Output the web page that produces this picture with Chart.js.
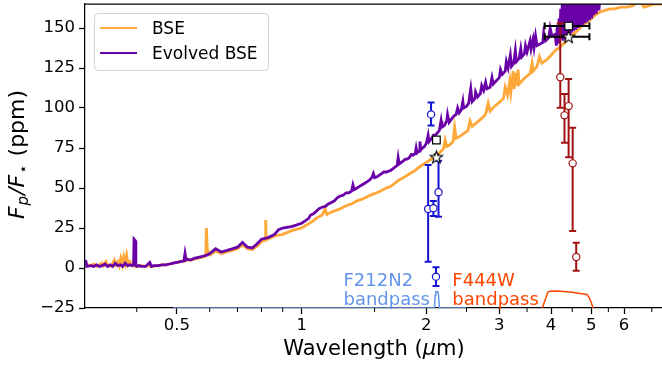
<!DOCTYPE html>
<html>
<head>
<meta charset="utf-8">
<script src="https://cdn.jsdelivr.net/npm/chart.js@4.4.1/dist/chart.umd.min.js"></script>
<style>
html, body { margin: 0; padding: 0; background: #fff; overflow: hidden; }
</style>
</head>
<body>
<canvas id="myChart" width="662" height="365"></canvas>
<script>
// ---- data ----
// spectra: [wavelength (um), Fp/F* (ppm)]
const bseSpectrum = [
  [0.300,8],[0.301,3],[0.305,2],[0.31,1.5],[0.315,2.5],[0.32,1],[0.325,2],[0.33,3],[0.333,1.5],[0.337,4],
  [0.34,2],[0.345,1],[0.35,3],[0.353,5],[0.356,2],[0.36,4],[0.363,1.5],[0.366,6],[0.369,2],[0.372,7],
  [0.375,3],[0.378,8],[0.381,2],[0.385,4],[0.39,1.5],[0.395,1],[0.40,1],[0.41,1.5],[0.42,1],[0.43,1.5],
  [0.44,1],[0.45,1.5],[0.46,2],[0.47,2],[0.48,2.5],[0.49,3],[0.50,3.5],[0.51,4],[0.52,4.5],[0.53,5],
  [0.54,5],[0.55,5.5],[0.56,6],[0.57,6.5],[0.58,7],[0.587,7.5],[0.589,25],[0.592,12],[0.596,9],[0.60,8],
  [0.62,10.5],[0.64,9],[0.66,10],[0.68,11],[0.70,12],[0.72,14.5],[0.74,12],[0.76,11.5],[0.78,13.5],[0.80,16.5],
  [0.81,17],[0.817,17.5],[0.819,30],[0.821,19],[0.83,18],[0.86,20],[0.90,21],[0.95,23.5],[1.00,25],
  [1.03,27],[1.06,29],[1.09,31.5],[1.12,33],[1.14,37],[1.15,33.5],[1.18,35],[1.21,36],[1.24,37],[1.27,38.5],
  [1.30,39.5],[1.33,40.5],[1.36,42],[1.40,43],[1.44,44.5],[1.48,46],[1.52,47],[1.56,48.5],[1.60,50],[1.64,51],
  [1.68,53],[1.72,55],[1.76,56.5],[1.80,58],[1.84,59.5],[1.88,61],[1.92,63],[1.96,64.5],
  [2.00,66],[2.04,67.5],[2.08,69],[2.12,70],[2.16,72.5],[2.20,74.5],[2.22,80],[2.24,76],[2.28,77],[2.32,79],
  [2.34,88],[2.36,81],[2.40,82],[2.46,84],[2.52,86],[2.55,92],[2.58,88.5],[2.65,91],[2.72,93.5],[2.78,96],
  [2.82,103],[2.85,98],[2.92,101],[3.00,103.5],[3.07,106],[3.10,113],[3.14,108],[3.18,117],[3.20,110],[3.24,123],
  [3.26,112],[3.28,122],[3.30,114],[3.33,124],[3.35,115],[3.43,118],[3.50,120],[3.56,121.5],[3.60,128],[3.62,123],
  [3.70,126],[3.75,132],[3.80,128],[3.90,130],[4.00,133],[4.10,136],
  [4.20,138],[4.28,140],[4.40,143],[4.50,146],
  [4.57,147],[4.70,150],[4.80,152],[4.90,154],[4.97,155],[5.10,158],[5.25,160],[5.40,161],[5.55,162],[5.70,162],
  [5.90,163],[6.10,163],[6.30,164],[6.55,167],[6.70,163],[6.90,164],[7.10,165],[7.41,165]
];
const evolvedSpectrum = [
  [0.300,2],[0.301,5],[0.303,1],[0.31,1.5],[0.315,1],[0.32,2],[0.325,1],[0.33,1.5],[0.335,2.5],[0.34,1],
  [0.345,2],[0.35,1],[0.355,3],[0.36,1.5],[0.365,2],[0.37,1],[0.375,3],[0.38,1.5],[0.385,2],[0.39,1.5],
  [0.393,2],[0.394,18],[0.397,17],[0.398,1.5],[0.40,1],[0.405,1.5],[0.41,1],[0.42,1],[0.43,3.5],[0.434,1],
  [0.44,1.5],[0.45,1.5],[0.46,2],[0.47,2],[0.48,2.5],[0.49,3],[0.50,3.5],[0.51,4],[0.52,4.5],[0.523,9],
  [0.526,5],[0.53,5.5],[0.54,5],[0.55,6],[0.56,6.5],[0.57,7],[0.58,7.5],[0.59,8],[0.60,9],[0.62,12],
  [0.64,10],[0.66,11],[0.68,12],[0.70,13],[0.72,16],[0.74,13],[0.76,12.5],[0.78,15],[0.80,18],[0.83,19],
  [0.86,21],[0.88,24],[0.90,25],[0.95,26],[1.00,28],
  [1.02,29.5],[1.04,31],[1.05,33],[1.07,34],[1.09,36],[1.10,37],[1.12,38],[1.14,38.5],[1.16,40],[1.18,41],
  [1.20,42],[1.22,44],[1.24,45],[1.26,45.5],[1.28,47],[1.30,47],[1.32,48],[1.33,52],[1.34,49],[1.36,50],
  [1.38,51],[1.40,52],[1.42,53],[1.44,54],[1.46,55],[1.48,57],[1.49,59],[1.50,56.5],[1.52,57],[1.54,58],
  [1.56,59],[1.58,60],[1.60,60],[1.62,60.5],[1.64,61],[1.66,62],[1.68,63],[1.70,64],[1.71,69],[1.72,65],
  [1.74,66],[1.76,67],[1.78,68],[1.80,68],[1.82,69],[1.84,71],[1.86,70.5],[1.88,71.5],[1.89,75],[1.90,72],
  [1.92,73],[1.93,79],[1.94,74],[1.96,75],[1.98,76],
  [2.00,78],[2.02,83],[2.03,79],[2.06,81],[2.08,83],[2.10,83],[2.12,84],[2.15,86],[2.17,92],[2.18,88],
  [2.21,89],[2.24,92],[2.25,96],[2.27,91],[2.30,93],[2.33,95],[2.36,96],[2.38,100],[2.40,97],[2.43,99],
  [2.45,104],[2.46,100],[2.50,101],[2.53,103],[2.56,112],[2.58,104],[2.62,106],[2.63,110],[2.66,107],[2.70,109],
  [2.72,114],[2.75,111],[2.78,116],[2.80,112],[2.85,113],[2.88,119],[2.90,115],[2.95,117],[3.00,119],[3.02,124],
  [3.05,121],[3.10,123],[3.12,129],[3.15,125],[3.19,133],[3.21,126],[3.25,128],[3.28,136],[3.30,129],[3.35,131],
  [3.38,137],[3.40,132],[3.45,134],[3.47,139],[3.50,135],[3.56,142],[3.58,137],[3.62,143],[3.64,138],[3.67,145],
  [3.70,139],[3.76,140],[3.82,141],[3.84,147],[3.88,142],[3.95,144],[3.98,150],[4.02,145],[4.09,146],
  [4.12,139],[4.14,152],[4.16,141],[4.18,156],[4.20,142],[4.22,162],[4.24,143],[4.26,170],[4.28,142],
  [4.30,172],[4.32,143],[4.34,172],[4.36,144],[4.38,172],[4.40,145],[4.42,172],[4.44,146],[4.46,172],[4.48,147],
  [4.50,172],[4.53,148],[4.56,172],[4.59,149],[4.62,172],[4.65,150],[4.68,172],[4.71,151],[4.74,172],[4.77,152],
  [4.80,172],[4.83,153],[4.86,172],[4.89,154],[4.92,172],[4.95,155],[4.98,172],[5.01,156],[5.04,172],[5.07,158],
  [5.10,172],[5.14,159],[5.18,172],[5.22,161],[5.26,175],[5.50,180],[6.00,185],[7.41,190]
];

// F212N2 points (blue) and F444W points (dark red): value, lower and upper end of error bar
const f212Wave = [2.053, 2.02, 2.08, 2.14, 2.11];
const f212Flux = [96, 36.9, 37.3, 47.3, -5.4];
const f212Low  = [89, 3.9, 32.5, 32, -11.3];
const f212High = [103.5, 64.4, 41.9, 67, 0.4];

const f444Wave = [4.21, 4.31, 4.41, 4.51, 4.60];
const f444Flux = [119.2, 95.4, 101.2, 65.4, 6.9];
const f444Low  = [100.2, 78.3, 69.2, 23.1, -1.7];
const f444High = [153, 108.8, 118.1, 87.7, 15.8];

// band-integrated models: square = evolved BSE, star = BSE
const bandWave  = [2.115, 4.41];
const bandLow   = [2.095, 3.86];
const bandHigh  = [2.135, 4.95];
const squareFlux = [80, 151.2];
const starFlux   = [69.4, 144.6];

// filter throughput curves (scaled to sit on the bottom of the plot)
const f212Band = [[0.49,-25],[2.093,-25],[2.10,-17],[2.107,-14.8],[2.13,-14.8],[2.14,-17],[2.15,-25],[2.5,-25]];
const f444Band = [[3.81,-25],[3.87,-20],[3.93,-15],[3.98,-14.5],[4.1,-14.4],[4.3,-14.7],[4.5,-15.2],[4.7,-15.9],[4.88,-16.6],[4.95,-18.6],[5.0,-21.5],[5.05,-25]];

// axes
const xLabelTicks = [0.5, 1, 2, 3, 4, 5, 6];
const xMinorTicks = [0.4, 0.6, 0.7, 0.8, 0.9, 1.5, 2.5, 3.5, 4.5, 5.5, 7];
const yTicks = [-25, 0, 25, 50, 75, 100, 125, 150];

// ---- helpers ----
const FONT = "'DejaVu Sans', 'Liberation Sans', sans-serif";
const toXY = arr => arr.map(p => ({ x: p[0], y: p[1] }));
const zipXY = (xs, ys) => xs.map((x, i) => ({ x: x, y: ys[i] }));

function makeStar(size) {
  const c = document.createElement('canvas');
  c.width = size; c.height = size;
  const g = c.getContext('2d');
  const cx = size / 2, cy = size / 2 + 0.6, R = size / 2 - 1, r = R * 0.42;
  g.beginPath();
  for (let i = 0; i < 10; i++) {
    const a = -Math.PI / 2 + i * Math.PI / 5;
    const rad = i % 2 ? r : R;
    g.lineTo(cx + rad * Math.cos(a), cy + rad * Math.sin(a));
  }
  g.closePath();
  g.fillStyle = '#fff'; g.fill();
  g.strokeStyle = '#000'; g.lineWidth = 1.1; g.stroke();
  return c;
}

// error bars drawn just before their own markers
const errorBars = {
  id: 'errorBars',
  beforeDatasetDraw(chart, args) {
    const ds = chart.data.datasets[args.index];
    if (!ds.yLow && !ds.xLow) return;
    const xs = chart.scales.x, ys = chart.scales.y, ctx = chart.ctx, a = chart.chartArea;
    ctx.save();
    ctx.beginPath(); ctx.rect(a.left, a.top, a.right - a.left, a.bottom - a.top); ctx.clip();
    ctx.strokeStyle = ds.errColor;
    ctx.lineWidth = 2;
    const cap = 3.5;
    ds.data.forEach((p, i) => {
      const px = xs.getPixelForValue(p.x), py = ys.getPixelForValue(p.y);
      ctx.beginPath();
      if (ds.yLow) {
        const t = ys.getPixelForValue(ds.yHigh[i]), b = ys.getPixelForValue(ds.yLow[i]);
        ctx.moveTo(px, t); ctx.lineTo(px, b);
        ctx.moveTo(px - cap, t); ctx.lineTo(px + cap, t);
        ctx.moveTo(px - cap, b); ctx.lineTo(px + cap, b);
      }
      if (ds.xLow) {
        const l = xs.getPixelForValue(ds.xLow[i]), r = xs.getPixelForValue(ds.xHigh[i]);
        ctx.moveTo(l, py); ctx.lineTo(r, py);
        ctx.moveTo(l, py - cap); ctx.lineTo(l, py + cap);
        ctx.moveTo(r, py - cap); ctx.lineTo(r, py + cap);
      }
      ctx.stroke();
    });
    ctx.restore();
  }
};

// frame pieces, titles, labels and legend in matplotlib style
const decorations = {
  id: 'decorations',
  afterDraw(chart) {
    const ctx = chart.ctx, a = chart.chartArea, xs = chart.scales.x, ys = chart.scales.y;
    ctx.save();
    // top spine
    ctx.strokeStyle = '#000'; ctx.lineWidth = 1.25;
    ctx.beginPath(); ctx.moveTo(a.left, a.top); ctx.lineTo(a.right, a.top); ctx.stroke();
    // minor x ticks
    ctx.lineWidth = 1;
    xMinorTicks.forEach(v => {
      const px = xs.getPixelForValue(v);
      if (px < a.left || px > a.right) return;
      ctx.beginPath(); ctx.moveTo(px, a.bottom); ctx.lineTo(px, a.bottom + 4); ctx.stroke();
    });

    // x title
    ctx.fillStyle = '#000';
    ctx.textBaseline = 'alphabetic';
    const xParts = [['Wavelength (', `21px ${FONT}`], ['\u03bc', `italic 21px ${FONT}`], ['m)', `21px ${FONT}`]];
    let w = 0;
    xParts.forEach(p => { ctx.font = p[1]; w += ctx.measureText(p[0]).width; });
    let cx = 374 - w / 2;
    xParts.forEach(p => { ctx.font = p[1]; ctx.fillText(p[0], cx, 355); cx += ctx.measureText(p[0]).width; });

    // y title, rotated
    const yParts = [['F', `italic 22px ${FONT}`, 0], ['p', `italic 15px ${FONT}`, 4], ['/F', `italic 22px ${FONT}`, 0],
                    ['\u22c6', `15px ${FONT}`, 4], [' (ppm)', `22px ${FONT}`, 0]];
    ctx.save();
    ctx.translate(24, 154);
    ctx.rotate(-Math.PI / 2);
    w = 0;
    yParts.forEach(p => { ctx.font = p[1]; w += ctx.measureText(p[0]).width + 1; });
    cx = -w / 2;
    yParts.forEach(p => { ctx.font = p[1]; ctx.fillText(p[0], cx, p[2]); cx += ctx.measureText(p[0]).width + 1; });
    ctx.restore();

    // filter labels
    ctx.font = `18px ${FONT}`;
    ctx.textAlign = 'left';
    ctx.fillStyle = '#6495ed';
    ctx.fillText('F212N2', xs.getPixelForValue(1.262), ys.getPixelForValue(-11.25));
    ctx.fillText('bandpass', xs.getPixelForValue(1.262), ys.getPixelForValue(-23.1));
    ctx.fillStyle = '#ff4500';
    ctx.fillText('F444W', xs.getPixelForValue(2.311), ys.getPixelForValue(-11.25));
    ctx.fillText('bandpass', xs.getPixelForValue(2.311), ys.getPixelForValue(-23.1));

    // legend
    const lx = 94.5, ly = 13.5, lw = 174, lh = 57;
    ctx.beginPath();
    ctx.roundRect(lx, ly, lw, lh, 4);
    ctx.fillStyle = 'rgba(255,255,255,0.8)'; ctx.fill();
    ctx.strokeStyle = '#d3d3d3'; ctx.lineWidth = 1; ctx.stroke();
    const entries = [[chart.data.datasets[1], 28, 34.3], [chart.data.datasets[0], 53, 59.3]];
    entries.forEach(e => {
      ctx.strokeStyle = e[0].borderColor; ctx.lineWidth = 2;
      ctx.beginPath(); ctx.moveTo(100, e[1]); ctx.lineTo(137, e[1]); ctx.stroke();
      ctx.fillStyle = '#000'; ctx.font = `17px ${FONT}`;
      ctx.fillText(e[0].label, 152, e[2]);
    });
    ctx.restore();
  }
};

const ctx = document.getElementById('myChart').getContext('2d');
const myChart = new Chart(ctx, {
  type: 'scatter',
  data: {
    datasets: [
      { label: 'Evolved BSE', data: toXY(evolvedSpectrum), showLine: true, borderColor: '#6a00a8',
        borderWidth: 2.8, pointRadius: 0, clip: 0, order: 9 },
      { label: 'BSE', data: toXY(bseSpectrum), showLine: true, borderColor: '#ffa83a',
        borderWidth: 2.8, pointRadius: 0, clip: 0, order: 10 },
      { label: 'F212N2 band', data: toXY(f212Band), showLine: true, borderColor: '#6495ed',
        borderWidth: 1.5, pointRadius: 0, order: 8 },
      { label: 'F444W band', data: toXY(f444Band), showLine: true, borderColor: '#ff4500',
        borderWidth: 1.5, pointRadius: 0, order: 8 },
      { label: 'F212N2 data', data: zipXY(f212Wave, f212Flux), yLow: f212Low, yHigh: f212High, errColor: '#1414d2',
        pointStyle: 'circle', pointRadius: 3.6, borderWidth: 1.2, borderColor: '#1414d2', backgroundColor: '#fff', order: 3 },
      { label: 'F444W data', data: zipXY(f444Wave, f444Flux), yLow: f444Low, yHigh: f444High, errColor: '#a01212',
        pointStyle: 'circle', pointRadius: 3.6, borderWidth: 1.2, borderColor: '#a01212', backgroundColor: '#fff', order: 2 },
      { label: 'Evolved BSE band', data: zipXY(bandWave, squareFlux), xLow: bandLow, xHigh: bandHigh, errColor: '#000',
        pointStyle: 'rect', pointRadius: 5.4, borderWidth: 1.2, borderColor: '#000', backgroundColor: '#fff', order: 1 },
      { label: 'BSE band', data: zipXY(bandWave, starFlux), xLow: bandLow, xHigh: bandHigh, errColor: '#000',
        pointStyle: makeStar(15), pointRadius: 7, order: 0 }
    ]
  },
  options: {
    responsive: false,
    animation: false,
    devicePixelRatio: 1,
    layout: { autoPadding: false, padding: { top: 4, right: 0, left: 0, bottom: 0 } },
    plugins: { legend: { display: false }, tooltip: { enabled: false } },
    events: [],
    scales: {
      x: {
        type: 'logarithmic',
        min: 0.302,
        max: 7.41,
        afterBuildTicks: s => { s.ticks = xLabelTicks.map(v => ({ value: v })); },
        afterFit: s => { s.height = 57; s.paddingLeft = 0; s.paddingRight = 0; },
        ticks: { autoSkip: false, maxRotation: 0, padding: 2, color: '#000',
                 font: { family: FONT, size: 16.5 }, callback: v => String(v) },
        grid: { drawOnChartArea: false, tickLength: 6, tickWidth: 1.25, tickColor: '#000' },
        border: { color: '#000', width: 1.25 }
      },
      y: {
        type: 'linear',
        min: -25,
        max: 165,
        afterBuildTicks: s => { s.ticks = yTicks.map(v => ({ value: v })); },
        afterFit: s => { s.width = 85; s.paddingTop = 0; s.paddingBottom = 0; },
        ticks: { padding: 4, color: '#000', font: { family: FONT, size: 16.5 },
                 callback: v => v < 0 ? '\u2212' + Math.abs(v) : String(v) },
        grid: { drawOnChartArea: false, tickLength: 6, tickWidth: 1.25, tickColor: '#000' },
        border: { color: '#000', width: 1.25 }
      }
    }
  },
  plugins: [errorBars, decorations]
});
</script>
</body>
</html>
